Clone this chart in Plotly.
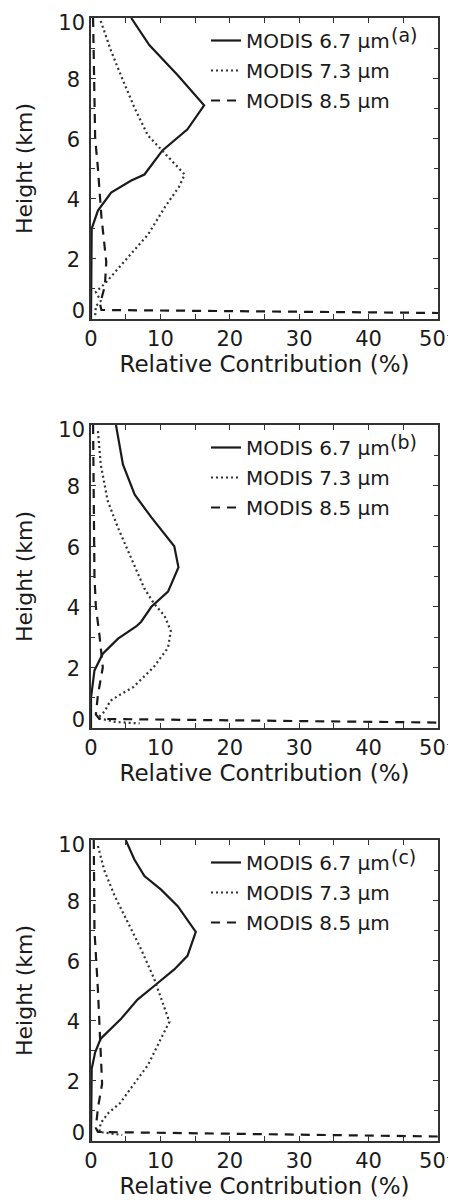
import plotly.graph_objects as go
from plotly.subplots import make_subplots

FONT = "DejaVu Sans, Liberation Sans, Arial, sans-serif"

series_names = ["MODIS 6.7 \u00b5m", "MODIS 7.3 \u00b5m", "MODIS 8.5 \u00b5m"]
panel_labels = ["(a)", "(b)", "(c)"]
x_tick_vals = [0, 10, 20, 30, 40, 50]
x_tick_text = ["0", "10", "20", "30", "40", "50\u207a"]
y_tick_vals = [0, 2, 4, 6, 8, 10]

# Panel (a)
a_h67 = [10.0, 9.1, 8.1, 7.1, 6.3, 5.6, 4.8, 4.6, 4.2, 3.6, 3.0, 0.0]
a_v67 = [5.8, 8.4, 12.5, 16.3, 13.9, 10.3, 7.7, 5.8, 2.9, 1.0, 0.1, 0.0]
a_h73 = [9.9, 8.9, 8.1, 7.0, 6.1, 5.5, 4.8, 4.4, 3.7, 2.8, 1.9, 1.2, 0.9, 0.6, 0.43, 0.1]
a_v73 = [1.4, 2.9, 4.3, 6.3, 8.2, 10.6, 13.5, 12.7, 10.6, 8.2, 4.7, 2.1, 0.7, 1.4, 0.7, 0.6]
a_h85 = [10.0, 8.0, 6.0, 5.0, 3.4, 1.9, 1.1, 0.5, 0.3, 0.2]
a_v85 = [0.3, 0.4, 0.6, 1.0, 1.5, 2.2, 2.0, 1.3, 1.5, 50.0]

# Panel (b)
b_h67 = [10.0, 8.7, 7.7, 6.95, 6.0, 5.3, 4.5, 4.0, 3.5, 3.35, 2.95, 2.45, 1.9, 1.0, 0.0]
b_v67 = [3.6, 4.6, 6.3, 8.7, 12.0, 12.6, 11.1, 8.7, 7.2, 6.5, 3.9, 1.7, 0.5, 0.0, 0.0]
b_h73 = [9.8, 8.7, 7.5, 6.6, 5.6, 4.6, 4.1, 3.7, 3.2, 2.65, 2.0, 1.35, 1.1, 0.9, 0.56, 0.33, 0.2, 0.15]
b_v73 = [1.0, 1.4, 2.4, 3.9, 5.8, 7.7, 9.1, 10.6, 11.5, 11.1, 9.0, 6.1, 4.2, 2.8, 2.0, 1.0, 3.5, 7.0]
b_h85 = [10.0, 7.0, 5.0, 4.0, 3.1, 2.0, 1.1, 0.45, 0.3, 0.18]
b_v85 = [0.3, 0.4, 0.5, 0.7, 1.2, 1.7, 1.0, 0.7, 1.2, 50.0]

# Panel (c)
c_h67 = [10.0, 9.35, 8.8, 8.35, 7.8, 6.95, 6.15, 5.7, 5.15, 4.7, 4.05, 3.4, 2.95, 2.4, 0.0]
c_v67 = [5.0, 6.25, 7.7, 10.1, 12.5, 15.1, 13.9, 12.0, 9.1, 6.7, 4.3, 1.4, 0.6, 0.1, 0.0]
c_h73 = [9.8, 9.0, 8.15, 7.27, 6.38, 5.39, 3.96, 3.41, 2.52, 1.9, 1.26, 0.93, 0.6, 0.3, 0.2]
c_v73 = [1.0, 1.9, 3.4, 5.3, 7.2, 9.1, 11.3, 10.1, 8.2, 6.2, 4.2, 2.5, 1.4, 1.2, 4.5]
c_h85 = [10.0, 7.0, 5.0, 3.1, 1.9, 1.1, 0.43, 0.3, 0.15]
c_v85 = [0.4, 0.5, 1.0, 1.4, 1.6, 1.0, 0.7, 1.0, 50.0]

panels = [
    (a_h67, a_v67, a_h73, a_v73, a_h85, a_v85),
    (b_h67, b_v67, b_h73, b_v73, b_h85, b_v85),
    (c_h67, c_v67, c_h73, c_v73, c_h85, c_v85),
]

W, H = 456, 1200
ML, MR, MT, MB = 83, 26, 10, 67
PH = H - MT - MB
box_px = [(10, 311), (417, 720), (832, 1133)]  # top, bottom in pixels
domains = [[(H - MB - b) / PH, (H - MB - t) / PH] for t, b in box_px]

fig = make_subplots(rows=3, cols=1)

styles = [
    dict(color="#1a1a1a", width=2.2),
    dict(color="#333333", width=2.2, dash="2px,3px"),
    dict(color="#1a1a1a", width=2.2, dash="9px,7px"),
]

for i, p in enumerate(panels):
    leg = "legend" if i == 0 else f"legend{i + 1}"
    for k in range(3):
        fig.add_trace(
            go.Scatter(
                x=p[2 * k + 1], y=p[2 * k], mode="lines",
                line=styles[k], name=series_names[k],
                legend=leg, legendgroup=f"p{i}s{k}", showlegend=True,
            ),
            row=i + 1, col=1,
        )

tick_font = dict(family=FONT, size=21, color="#1a1a1a")
axis_common = dict(
    showline=True, linecolor="#333333", linewidth=1.5, mirror="allticks",
    ticks="inside", ticklen=5, tickwidth=1, tickcolor="#333333",
    showgrid=False, zeroline=False, ticklabeloverflow="allow",
    tickfont=tick_font,
)

for i in range(3):
    sfx = "" if i == 0 else str(i + 1)
    xa = "xaxis" + sfx
    ya = "yaxis" + sfx
    fig.layout[xa].update(
        range=[0, 50], tickvals=x_tick_vals, ticktext=x_tick_text,
        minor=dict(dtick=5, ticks="inside", ticklen=4, tickcolor="#333333"),
        title=dict(text="Relative Contribution (%)", standoff=3,
                   font=dict(family=FONT, size=23, color="#1a1a1a")),
        ticklabelstandoff=0,
        **axis_common,
    )
    # main y axis: interior labels (end labels drawn by overlay axes below)
    fig.layout[ya].update(
        range=[0, 10], tickvals=y_tick_vals, domain=domains[i],
        ticktext=["", "2", "4", "6", "8", ""],
        ticklabelshift=1,
        minor=dict(dtick=1, ticks="inside", ticklen=4, tickcolor="#333333"),
        title=dict(text="Height (km)", standoff=28,
                   font=dict(family=FONT, size=22, color="#1a1a1a")),
        ticklabelstandoff=5,
        **axis_common,
    )
    # overlay axes placing the end labels slightly inward, as in the original
    for j, (val, shift) in enumerate([(y_tick_vals[-1], 5), (y_tick_vals[0], -8)]):
        oid = 4 + 2 * i + j
        fig.layout[f"yaxis{oid}"] = dict(
            overlaying="y" + sfx, anchor="x" + sfx, side="left",
            range=[0, 10], tickvals=[val], ticktext=[str(val)],
            ticks="", showline=False, showgrid=False, zeroline=False,
            ticklabelshift=shift, ticklabelstandoff=5,
            ticklabeloverflow="allow", tickfont=tick_font,
        )
        fig.add_trace(go.Scatter(
            x=[None], y=[None], xaxis="x" + sfx, yaxis=f"y{oid}",
            mode="lines", showlegend=False, hoverinfo="skip",
        ))
    leg = "legend" + sfx
    top_px = box_px[i][0] + 3
    fig.layout[leg] = dict(
        x=(198 - ML) / (W - ML - MR), y=(H - MB - top_px) / PH,
        xanchor="left", yanchor="top", bgcolor="rgba(0,0,0,0)",
        borderwidth=0, tracegroupgap=1, itemwidth=30,
        font=dict(family=FONT, size=20, color="#1a1a1a"),
    )
    fig.add_annotation(
        x=45.1, y=9.45, xref="x" + sfx, yref="y" + sfx,
        text=panel_labels[i], showarrow=False, xanchor="center", yanchor="middle",
        font=dict(family=FONT, size=19, color="#1a1a1a"),
    )

fig.update_layout(
    width=W, height=H, margin=dict(l=ML, r=MR, t=MT, b=MB, autoexpand=False),
    paper_bgcolor="white", plot_bgcolor="white",
    font=dict(family=FONT, color="#1a1a1a"),
)

fig.write_html("out.html")
